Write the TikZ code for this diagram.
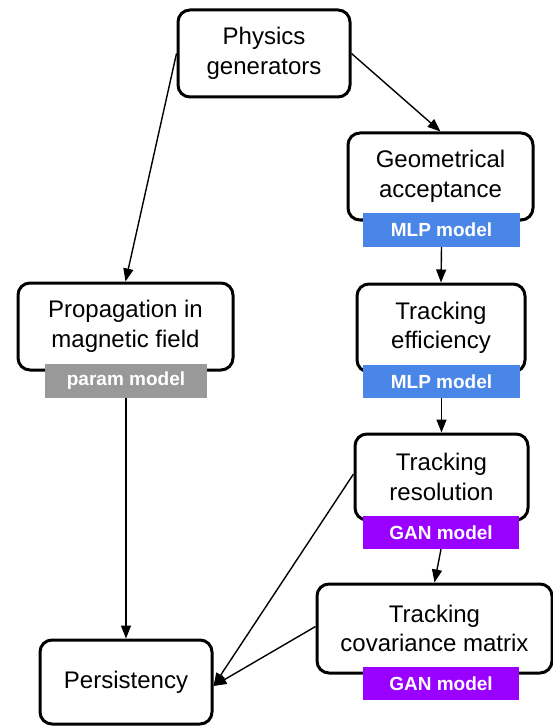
\documentclass[tikz,border=0pt]{standalone}
\usepackage{fontspec}
\setmainfont{Liberation Sans}
\usetikzlibrary{arrows.meta}
\definecolor{mlpblue}{HTML}{4A86E8}
\definecolor{ganpurple}{HTML}{9900FF}
\definecolor{paramgray}{HTML}{999999}
\begin{document}
\begin{tikzpicture}[x=1pt,y=-1pt,
  box/.style={draw=black, line width=3pt, rounded corners=12pt, fill=white,
    inner sep=0pt, align=center, font=\fontsize{24}{29.5}\selectfont},
  bar/.style={inner sep=0pt, text=white, font=\fontsize{19}{22}\selectfont\bfseries},
  arr/.style={line width=1.4pt, -{Triangle[length=13pt,width=10pt]}}
]
\useasboundingbox (0,0) rectangle (553,727);
% boxes
\node[box, minimum width=172pt, minimum height=87pt] (pg) at (264,53.5) {Physics\\generators};
\node[box, minimum width=185pt, minimum height=87pt] (geo) at (440.5,176.5) {Geometrical\\acceptance};
\node[box, minimum width=215pt, minimum height=87pt] (prop) at (125.5,326.5) {Propagation in\\magnetic field};
\node[box, minimum width=168pt, minimum height=88pt] (eff) at (441,328) {Tracking\\efficiency};
\node[box, minimum width=173pt, minimum height=86pt] (res) at (441.5,477) {Tracking\\resolution};
\node[box, minimum width=235pt, minimum height=89pt] (cov) at (434.5,628.5) {Tracking\\covariance matrix};
\node[box, minimum width=172pt, minimum height=84pt] (pers) at (126,682) {Persistency};
% bars
\node[bar, fill=mlpblue, minimum width=157pt, minimum height=34pt] (geobar) at (441.5,230) {MLP model};
\node[bar, fill=mlpblue, minimum width=157pt, minimum height=33pt] (effbar) at (441.5,381.5) {MLP model};
\node[bar, fill=paramgray, minimum width=162pt, minimum height=34pt] (propbar) at (126,381) {param model};
\node[bar, fill=ganpurple, minimum width=156pt, minimum height=33pt] (resbar) at (441,532.5) {GAN model};
\node[bar, fill=ganpurple, minimum width=156pt, minimum height=33pt] (covbar) at (441,683.5) {GAN model};
% connectors
\draw[arr] (pg.west) -- (prop.north);
\draw[arr] (pg.east) -- (geo.north);
\draw[arr] (geobar.south) -- (eff.north);
\draw[arr] (effbar.south) -- (res.north);
\draw[arr] (resbar.south) -- (cov.north);
\draw[arr] (propbar.south) -- (pers.north);
\draw[arr] ([yshift=3pt]res.west) -- ([yshift=-4pt]pers.east);
\draw[arr] ([yshift=2pt]cov.west) -- ([yshift=-4pt]pers.east);
\end{tikzpicture}
\end{document}
